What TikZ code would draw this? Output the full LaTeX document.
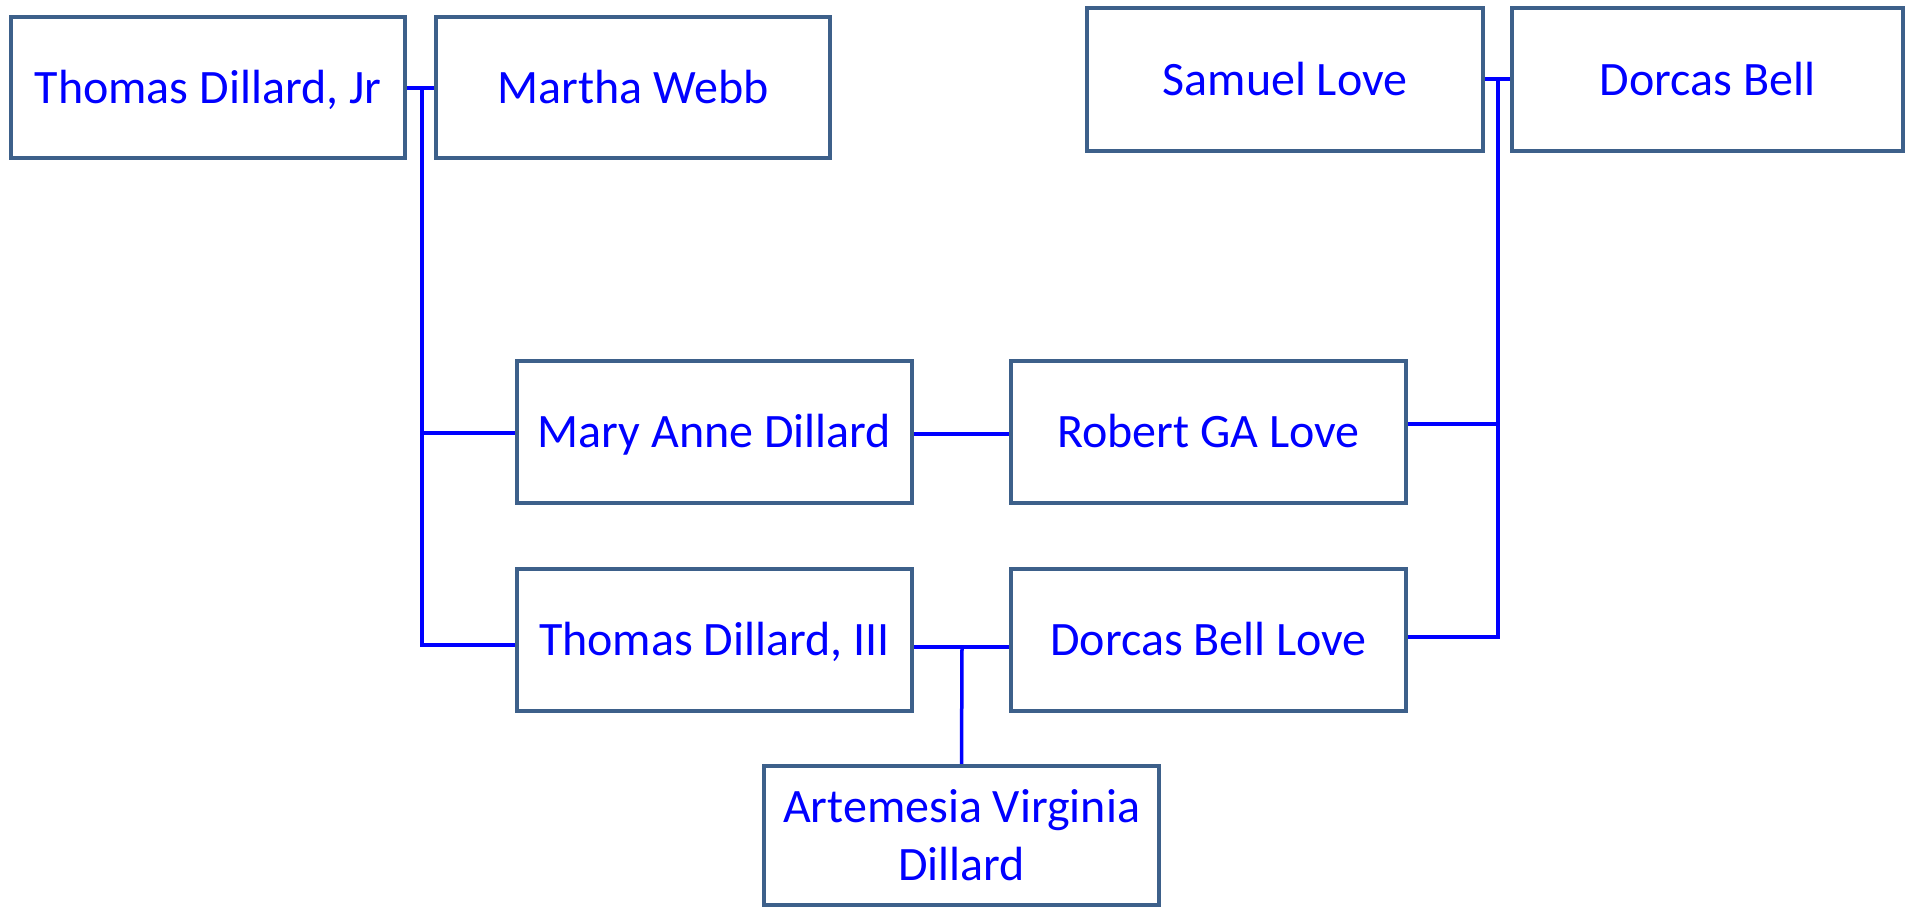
\documentclass[tikz,border=0pt]{standalone}
\usepackage{fontspec}
\setmainfont{Carlito}
\definecolor{boxline}{RGB}{61,96,138}
\definecolor{txt}{RGB}{0,0,255}
\begin{document}
\begin{tikzpicture}[x=1pt,y=-1pt,
  person/.style={draw=boxline,line width=4.5pt,fill=white,text=txt,
    minimum height=141pt,inner sep=0pt,align=center,
    font=\fontsize{48}{58}\selectfont},
  oneline/.style={text height=31pt,text depth=0pt},
  link/.style={draw=txt,line width=3.5pt}]
\useasboundingbox (0,0) rectangle (1905,908);
% boxes
\node[person,oneline,minimum width=394pt] (tdjr) at (208,87.5) {Thomas Dillard, Jr};
\node[person,oneline,minimum width=394pt] (mw) at (633,87.5) {Martha Webb};
\node[person,oneline,minimum width=396pt,minimum height=143pt] (sl) at (1285,79.5) {Samuel Love};
\node[person,oneline,minimum width=391pt,minimum height=143pt] (db) at (1707.5,79.5) {Dorcas Bell};
\node[person,oneline,minimum width=395pt,minimum height=142pt] (mad) at (714.5,432) {Mary Anne Dillard};
\node[person,oneline,minimum width=395pt,minimum height=142pt] (rgl) at (1208.5,432) {Robert GA Love};
\node[person,oneline,minimum width=395pt,minimum height=142pt] (td3) at (714.5,640) {Thomas Dillard, III};
\node[person,oneline,minimum width=395pt,minimum height=142pt] (dbl) at (1208.5,640) {Dorcas Bell Love};
\node[person,minimum width=395pt,minimum height=139pt] (avd) at (961.5,835.5) {Artemesia Virginia\\Dillard};
% junctions
\coordinate (j1) at (422,88);
\coordinate (j1b) at (422,645);
\coordinate (j2) at (1498,79);
\coordinate (j2b) at (1498,637);
\coordinate (j3) at (962,647);
% couple links
\draw[link] (tdjr.east |- j1) -- (mw.west |- j1);
\draw[link] (sl.east |- j2) -- (db.west |- j2);
\draw[link] (mad.east |- 0,434) -- (rgl.west |- 0,434);
\draw[link] (td3.east |- j3) -- (dbl.west |- j3);
% descent lines
\draw[link] (j1) -- (j1b) -- (td3.west |- j1b);
\draw[link] (j1 |- 0,433) -- (mad.west |- 0,433);
\draw[link] (j2) -- (j2b) -- (dbl.east |- j2b);
\draw[link] (j2 |- 0,424) -- (rgl.east |- 0,424);
\draw[link] (j3) -- (avd.north);
\end{tikzpicture}
\end{document}
